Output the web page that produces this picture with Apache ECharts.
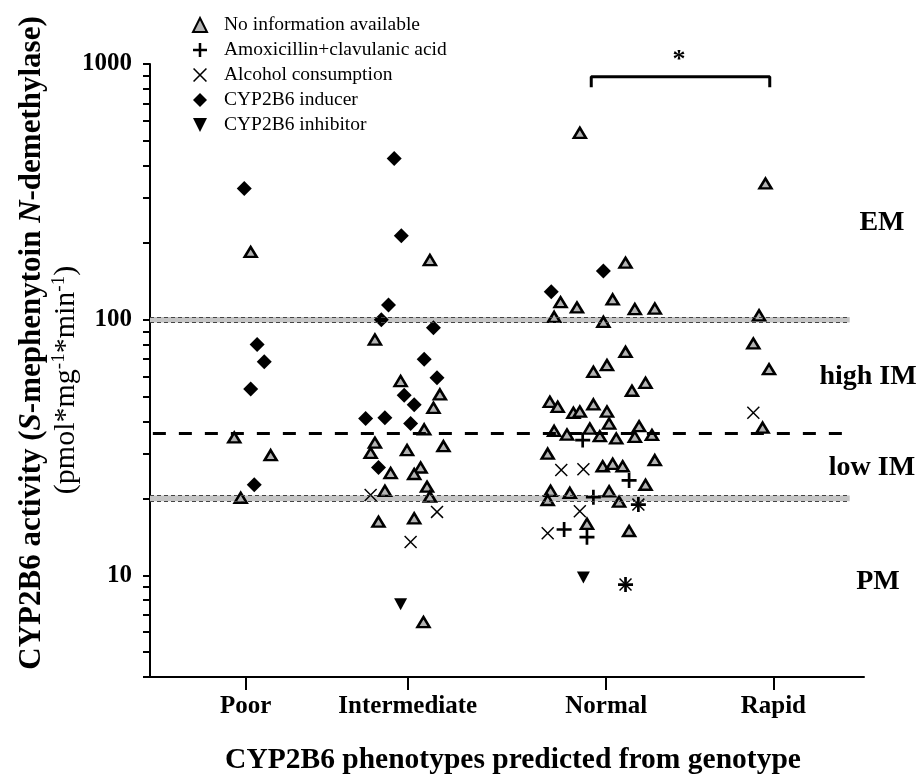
<!DOCTYPE html>
<html>
<head>
<meta charset="utf-8">
<script src="https://cdn.jsdelivr.net/npm/echarts@6/dist/echarts.min.js"></script>
<style>
  html, body { margin: 0; padding: 0; background: #fff; }
  #chart { width: 922px; height: 778px; }
</style>
</head>
<body>
<div id="chart"></div>
<script>
// x positions are in axis units (0..100), categories sit at uneven places like the original
var categories = ['Poor', 'Intermediate', 'Normal', 'Rapid'];
var categoryPos = [13.4, 36.1, 63.9, 87.3];
var yTicks = [4, 5, 6, 7, 8, 9, 10, 20, 30, 40, 50, 60, 70, 80, 90, 100, 200, 300, 400, 500, 600, 700, 800, 900, 1000];
var yLabels = [10, 100, 1000];

var noInfo = [
  // Poor
  [14.1, 184], [11.8, 34.6], [16.9, 29.5], [12.7, 20.1],
  // Intermediate
  [39.2, 171], [31.5, 83.6], [35.1, 57.5], [40.6, 51], [39.7, 45.2], [38.4, 37.2], [31.5, 33], [41.1, 32],
  [30.9, 30.1], [36.0, 30.9], [33.7, 25.1], [37.9, 26.4], [37.0, 24.9], [38.8, 22.2], [32.9, 21.4], [39.2, 20.3],
  [32.0, 16.2], [37.0, 16.7], [38.3, 6.56],
  // Normal
  [60.2, 538], [66.6, 167], [57.5, 117], [64.8, 120], [59.8, 111.6], [67.9, 110], [70.7, 110.5], [56.6, 102.5],
  [63.5, 98], [66.6, 74.8], [64.0, 66.4], [62.1, 62.5], [69.4, 56.6], [67.5, 52.7], [56.0, 47.7], [57.1, 45.6],
  [62.1, 46.6], [59.3, 43.2], [60.2, 43.7], [64.0, 43.7], [64.3, 39.2], [61.6, 37.5], [68.5, 38.3], [56.6, 36.7],
  [58.4, 35.5], [63.0, 35], [65.3, 34.3], [67.9, 34.8], [70.3, 35.4], [55.7, 29.9], [70.7, 28.2], [63.4, 26.7],
  [64.8, 27.3], [66.2, 26.7], [69.4, 22.6], [56.1, 21.4], [58.8, 21], [64.3, 21.3], [55.7, 19.7], [65.7, 19.4],
  [61.2, 15.9], [67.1, 14.9],
  // Rapid
  [86.2, 341], [85.3, 104], [84.5, 80.7], [86.7, 64], [85.8, 37.8]
];
var amoxicillin = [
  [60.6, 33.8], [67.1, 23.5], [62.1, 20.2], [58.0, 15.1], [61.2, 14.1], [68.4, 18.9], [66.6, 9.2]
];
var alcohol = [
  [30.9, 20.6], [40.2, 17.7], [36.5, 13.5],
  [57.6, 25.8], [60.7, 26], [60.2, 17.8], [55.7, 14.6], [68.4, 18.9], [66.6, 9.2],
  [84.5, 43.2]
];
var inducer = [
  [13.2, 326], [15.0, 80], [16.0, 68.4], [14.1, 53.5], [14.6, 22.6],
  [34.2, 427], [35.2, 213], [33.4, 114], [32.4, 100], [39.7, 92.9], [38.4, 70], [40.2, 59.2], [35.6, 50.6],
  [37.0, 46.5], [30.2, 41], [32.9, 41.3], [36.5, 39.2], [32.0, 26.4],
  [63.5, 155], [56.2, 128.5]
];
var inhibitor = [[35.1, 7.7], [60.7, 9.8]];

var emLimit = [97.5, 102.5];
var pmLimit = [19.5, 20.5];
var imCutoff = 36;
var bracket = [[61.8, 811], [61.8, 892], [86.8, 892], [86.8, 811]];

var serif = 'Liberation Serif';
var plusPath = 'path://M0,41H100V59H0Z M41,0H59V100H41Z';
var crossPath = 'path://M0,8L8,0L100,92L92,100Z M92,0L100,8L8,100L0,92Z';
var downTriPath = 'path://M0,0L100,0L50,100Z';

var chart = echarts.init(document.getElementById('chart'));

function bandLine(v, x0, x1) {
  return [
    { coord: [x0, v], lineStyle: { color: '#444', width: 1, type: [4, 3] } },
    { coord: [x1, v] }
  ];
}

function boldText(x, y, text, size) {
  return {
    type: 'text', x: x, y: y,
    style: { text: text, align: 'center', verticalAlign: 'middle', fontFamily: serif, fontWeight: 'bold', fontSize: size, fill: '#000' }
  };
}

var option = {
  animation: false,
  backgroundColor: '#fff',
  grid: { left: 150, right: 58, top: 64, bottom: 101 },
  legend: {
    orient: 'vertical',
    left: 187,
    top: 10,
    itemWidth: 14,
    itemHeight: 14,
    itemGap: 5,
    selectedMode: false,
    textStyle: { fontFamily: serif, fontSize: 19.5, color: '#000', lineHeight: 20, padding: [0, 0, 0, 12] },
    data: ['No information available', 'Amoxicillin+clavulanic acid', 'Alcohol consumption', 'CYP2B6 inducer', 'CYP2B6 inhibitor']
  },
  xAxis: {
    type: 'value',
    min: 0,
    max: 100,
    splitLine: { show: false },
    axisLine: { onZero: false, lineStyle: { color: '#000', width: 2 } },
    axisTick: { customValues: categoryPos, length: 13, lineStyle: { color: '#000', width: 2 } },
    axisLabel: {
      customValues: categoryPos,
      margin: 17,
      fontFamily: serif, fontWeight: 'bold', fontSize: 25, color: '#000',
      formatter: function (v) {
        var best = 0;
        for (var i = 1; i < categoryPos.length; i++) {
          if (Math.abs(categoryPos[i] - v) < Math.abs(categoryPos[best] - v)) best = i;
        }
        return categories[best];
      }
    }
  },
  yAxis: {
    type: 'log',
    logBase: 10,
    min: 4,
    max: 1000,
    splitLine: { show: false },
    axisLine: { show: true, lineStyle: { color: '#000', width: 2 } },
    axisTick: { show: true, customValues: yTicks, length: 7, lineStyle: { color: '#000', width: 2 } },
    axisLabel: {
      customValues: yLabels,
      margin: 18,
      fontFamily: serif, fontWeight: 'bold', fontSize: 25, color: '#000',
      formatter: function (v) { return String(Math.round(v)); }
    }
  },
  graphic: [
    {
      type: 'text', x: 32, y: 343, rotation: Math.PI / 2,
      style: {
        text: '{b|CYP2B6 activity (}{bi|S}{b|-mephenytoin }{bi|N}{b|-demethylase)}',
        align: 'center', verticalAlign: 'middle',
        rich: {
          b: { fontFamily: serif, fontWeight: 'bold', fontSize: 31, fill: '#000' },
          bi: { fontFamily: serif, fontWeight: 'bold', fontStyle: 'italic', fontSize: 31, fill: '#000' }
        }
      }
    },
    {
      type: 'text', x: 66, y: 380, rotation: Math.PI / 2,
      style: {
        text: '{r|(pmol*mg}{s|-1}{r|*min}{s|-1}{r|)}',
        align: 'center', verticalAlign: 'middle',
        rich: {
          r: { fontFamily: serif, fontSize: 30, fill: '#000', lineHeight: 33 },
          s: { fontFamily: serif, fontSize: 19, fill: '#000', verticalAlign: 'top', lineHeight: 33 }
        }
      }
    },
    boldText(513, 760, 'CYP2B6 phenotypes predicted from genotype', 29.5),
    boldText(882, 223, 'EM', 28),
    boldText(868, 377, 'high IM', 28),
    boldText(872, 468, 'low IM', 28),
    boldText(878, 582, 'PM', 28),
    boldText(679, 60, '*', 26)
  ],
  series: [
    {
      name: 'No information available',
      type: 'scatter',
      symbol: 'triangle',
      symbolSize: [12, 10],
      itemStyle: { color: '#b3b3b3', borderColor: '#000', borderWidth: 2.5, opacity: 1 },
      data: noInfo,
      z: 3,
      markArea: {
        silent: true,
        itemStyle: { color: '#c4c4c4' },
        data: [
          [{ coord: [0, emLimit[0]] }, { coord: [98, emLimit[1]] }],
          [{ coord: [0, pmLimit[0]] }, { coord: [98, pmLimit[1]] }]
        ]
      },
      markLine: {
        silent: true,
        symbol: 'none',
        label: { show: false },
        data: [
          bandLine(emLimit[0], 0, 98), bandLine(emLimit[1], 0, 98),
          bandLine(pmLimit[0], 0, 98), bandLine(pmLimit[1], 0, 98),
          [
            { coord: [0.4, imCutoff], lineStyle: { color: '#000', width: 3, type: [13, 13] } },
            { coord: [97.3, imCutoff] }
          ]
        ]
      }
    },
    {
      name: 'Amoxicillin+clavulanic acid',
      type: 'scatter',
      symbol: plusPath,
      symbolSize: 15,
      itemStyle: { color: '#000', opacity: 1 },
      data: amoxicillin,
      z: 4
    },
    {
      name: 'Alcohol consumption',
      type: 'scatter',
      symbol: crossPath,
      symbolSize: 13,
      itemStyle: { color: '#000', opacity: 1 },
      data: alcohol,
      z: 4
    },
    {
      name: 'CYP2B6 inducer',
      type: 'scatter',
      symbol: 'diamond',
      symbolSize: 15,
      itemStyle: { color: '#000', opacity: 1 },
      data: inducer,
      z: 4
    },
    {
      name: 'CYP2B6 inhibitor',
      type: 'scatter',
      symbol: downTriPath,
      symbolSize: [13, 12],
      itemStyle: { color: '#000', opacity: 1 },
      data: inhibitor,
      z: 4
    },
    {
      name: 'bracket',
      type: 'line',
      data: bracket,
      symbol: 'none',
      silent: true,
      lineStyle: { color: '#000', width: 3 },
      z: 5
    }
  ]
};
chart.setOption(option);
</script>
</body>
</html>
